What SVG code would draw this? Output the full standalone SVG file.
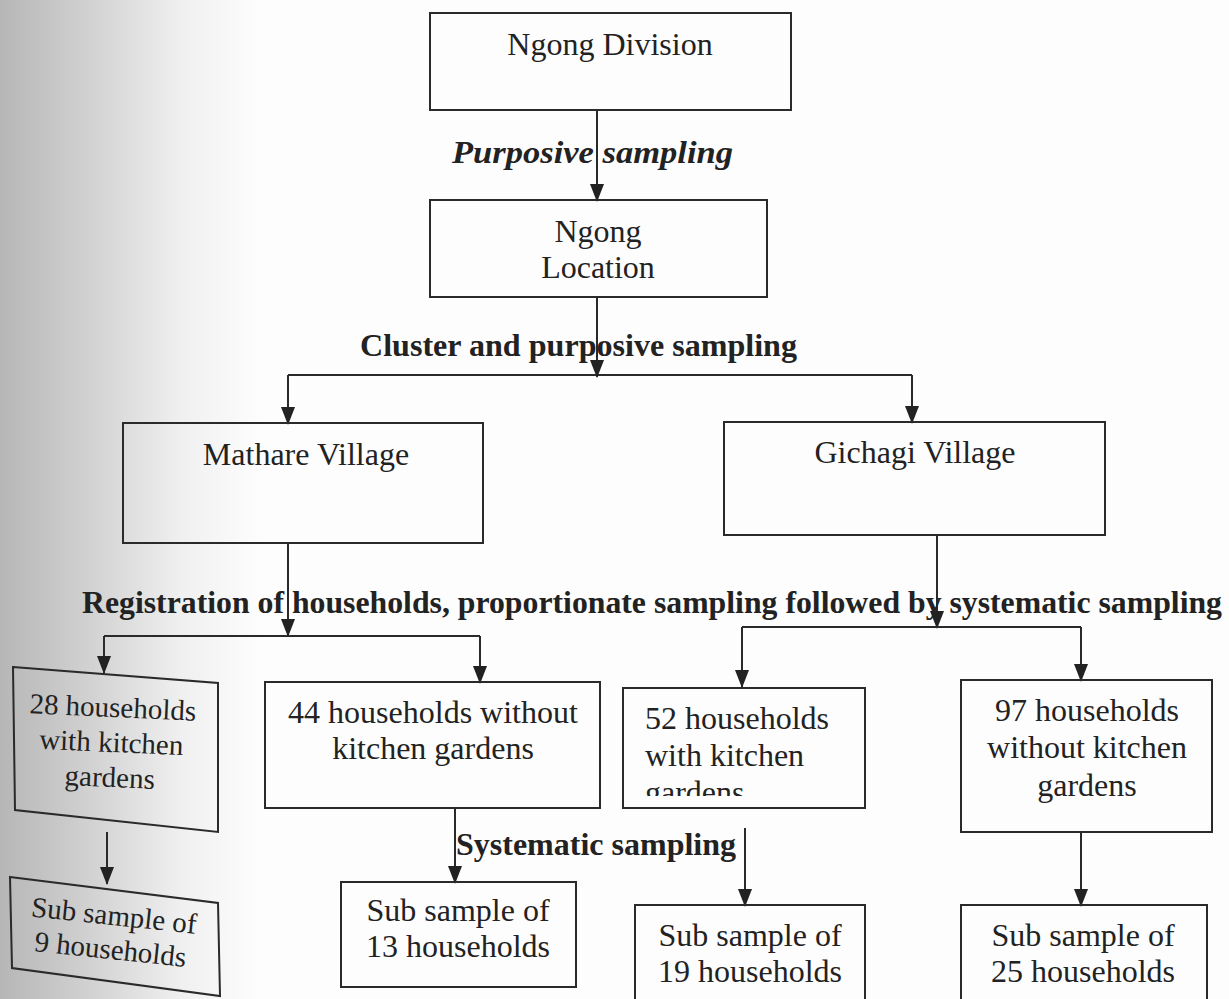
<svg xmlns="http://www.w3.org/2000/svg" width="1229" height="999" viewBox="0 0 1229 999">
<defs>
<linearGradient id="shade" x1="0" y1="0" x2="1" y2="0">
<stop offset="0" stop-color="#b6b6b6"/>
<stop offset="0.35" stop-color="#d2d2d2"/>
<stop offset="0.7" stop-color="#f0f0f0"/>
<stop offset="1" stop-color="#fdfdfd"/>
</linearGradient>
<marker id="ah" markerUnits="userSpaceOnUse" markerWidth="18" markerHeight="16" refX="17" refY="8" orient="auto" viewBox="0 0 18 16">
<path d="M0,1 L18,8 L0,15 Z" fill="#222"/>
</marker>
<clipPath id="clip52"><rect x="623" y="688" width="242" height="108"/></clipPath>
</defs>
<style>
.box{fill:none;stroke:#2a2a2a;stroke-width:2}
.t{font-family:"Liberation Serif","Times New Roman",serif;font-size:32px;fill:#222;text-anchor:middle}
.ts{font-family:"Liberation Serif","Times New Roman",serif;font-size:32px;fill:#222;text-anchor:start}
.sm{font-size:29px}
.b{font-family:"Liberation Serif","Times New Roman",serif;font-size:32px;font-weight:bold;fill:#222}
.ln{fill:none;stroke:#2a2a2a;stroke-width:2}
.arr{fill:none;stroke:#2a2a2a;stroke-width:2;marker-end:url(#ah)}
</style>
<rect x="0" y="0" width="1229" height="999" fill="#fdfdfd"/>
<rect x="0" y="0" width="260" height="999" fill="url(#shade)"/>

<g id="connectors">
<line class="arr" x1="597" y1="110" x2="597" y2="201"/>
<line class="ln" x1="597" y1="297" x2="597" y2="375"/>
<polyline class="ln" points="288,375 912,375"/>
<line class="arr" x1="597" y1="340" x2="597" y2="377"/>
<line class="arr" x1="288" y1="375" x2="288" y2="424"/>
<line class="arr" x1="912" y1="375" x2="912" y2="423"/>
<line class="arr" x1="288" y1="543" x2="288" y2="636"/>
<polyline class="ln" points="104,636 480,636"/>
<line class="arr" x1="104" y1="636" x2="104" y2="673"/>
<line class="arr" x1="480" y1="636" x2="480" y2="683"/>
<line class="arr" x1="937" y1="535" x2="937" y2="628"/>
<polyline class="ln" points="742,627 1081,627"/>
<line class="arr" x1="742" y1="627" x2="742" y2="687"/>
<line class="arr" x1="1081" y1="627" x2="1081" y2="681"/>
<line class="arr" x1="107" y1="832" x2="107" y2="884"/>
<line class="arr" x1="455" y1="808" x2="455" y2="883"/>
<line class="arr" x1="745" y1="828" x2="745" y2="906"/>
<line class="arr" x1="1081" y1="832" x2="1081" y2="906"/>
</g>

<g id="labels">
<text class="b" x="452" y="163" font-style="italic" textLength="281" lengthAdjust="spacingAndGlyphs">Purposive sampling</text>
<text class="b" x="360" y="356" textLength="437" lengthAdjust="spacingAndGlyphs">Cluster and purposive sampling</text>
<text class="b" x="82" y="613" font-size="31" textLength="1140" lengthAdjust="spacingAndGlyphs">Registration of households, proportionate sampling followed by systematic sampling</text>
<text class="b" x="456" y="855" textLength="280" lengthAdjust="spacingAndGlyphs">Systematic sampling</text>
</g>

<g id="ngong-division">
<rect class="box" x="430" y="13" width="361" height="97"/>
<text class="t" x="610" y="55">Ngong Division</text>
</g>
<g id="ngong-location">
<rect class="box" x="430" y="200" width="337" height="97"/>
<text class="t" x="598" y="242">Ngong</text>
<text class="t" x="598" y="278">Location</text>
</g>
<g id="mathare">
<rect class="box" x="123" y="423" width="360" height="120"/>
<text class="t" x="306" y="465">Mathare Village</text>
</g>
<g id="gichagi">
<rect class="box" x="724" y="422" width="381" height="113"/>
<text class="t" x="915" y="463">Gichagi Village</text>
</g>
<g id="hh28">
<polygon class="box" points="13,667 218,683 218,832 15,810"/>
<g transform="rotate(2.5 112 750)">
<text class="t sm" x="111" y="717">28 households</text>
<text class="t sm" x="111" y="752">with kitchen</text>
<text class="t sm" x="111" y="787">gardens</text>
</g>
</g>
<g id="sub9">
<polygon class="box" points="10,877 218,903 220,996 12,968"/>
<g transform="rotate(6 112 935)">
<text class="t sm" x="112" y="925">Sub sample of</text>
<text class="t sm" x="112" y="959">9 households</text>
</g>
</g>
<g id="hh44">
<rect class="box" x="265" y="682" width="335" height="126"/>
<text class="t" x="433" y="723">44 households without</text>
<text class="t" x="433" y="759">kitchen gardens</text>
</g>
<g id="sub13">
<rect class="box" x="341" y="882" width="235" height="105"/>
<text class="t" x="458" y="921">Sub sample of</text>
<text class="t" x="458" y="957">13 households</text>
</g>
<g id="hh52">
<rect class="box" x="623" y="688" width="242" height="120"/>
<g clip-path="url(#clip52)">
<text class="ts" x="645" y="729">52 households</text>
<text class="ts" x="645" y="766">with kitchen</text>
<text class="ts" x="645" y="803">gardens</text>
</g>
</g>
<g id="sub19">
<rect class="box" x="635" y="905" width="230" height="110"/>
<text class="t" x="750" y="946">Sub sample of</text>
<text class="t" x="750" y="982">19 households</text>
</g>
<g id="hh97">
<rect class="box" x="961" y="680" width="251" height="152"/>
<text class="t" x="1087" y="721">97 households</text>
<text class="t" x="1087" y="758">without kitchen</text>
<text class="t" x="1087" y="796">gardens</text>
</g>
<g id="sub25">
<rect class="box" x="961" y="905" width="246" height="110"/>
<text class="t" x="1083" y="946">Sub sample of</text>
<text class="t" x="1083" y="982">25 households</text>
</g>
</svg>
